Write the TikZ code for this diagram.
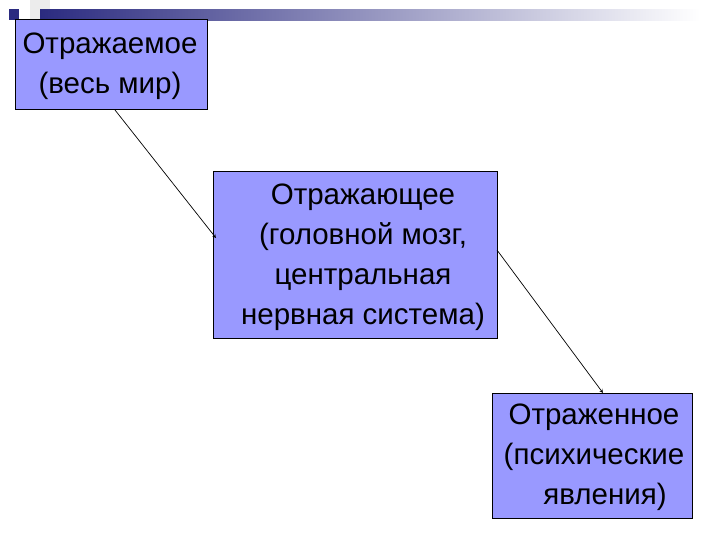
\documentclass[tikz,border=0pt]{standalone}
\usepackage{fontspec}
\setmainfont{Liberation Sans}
\begin{document}
\begin{tikzpicture}[x=1pt,y=-1pt,
  box/.style={draw=black,fill=boxc,line width=1pt},
  txt/.style={align=center,font=\fontsize{29.5}{40}\selectfont,inner sep=0pt},
  arr/.style={-stealth,line width=0.7pt}]
\definecolor{boxc}{HTML}{9999FF}
\definecolor{bandc}{HTML}{2B2B80}
\useasboundingbox (0,0) rectangle (720,540);
\fill[white] (0,0) rectangle (720,540);
\fill[gray!15] (30,0) rectangle (50,40);
\shade[left color=bandc,right color=white] (40,10) rectangle (700,21);
\fill[bandc] (9,9) rectangle (19,20);
\path[box] (15,20) rectangle (207,110);
\path[box] (213,172) rectangle (497,338);
\path[box] (492,393) rectangle (692,518);
\node[txt] (a) at (110,66) {Отражаемое\\(весь мир)};
\node[txt] (b) at (363,257) {Отражающее\\(головной мозг,\\центральная\\нервная система)};
\node[txt] (c) at (594,457) {\hspace*{0pt}\hfill Отраженное\\(психические\\\hspace*{22pt}явления)};
\coordinate (a1) at (115,110);
\coordinate (b1) at (216,238);
\coordinate (b2) at (497,250);
\coordinate (c1) at (603,393);
\draw[arr] (a1) -- (b1);
\draw[arr] (b2) -- (c1);
\end{tikzpicture}
\end{document}
